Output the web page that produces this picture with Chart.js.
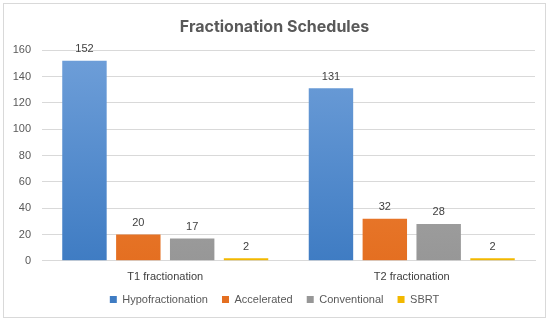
<!DOCTYPE html>
<html>
<head>
<meta charset="utf-8">
<script src="https://cdn.jsdelivr.net/npm/chart.js@4"></script>
<style>
  html, body { margin: 0; padding: 0; background: #fff; }
  #wrap { position: absolute; left: 3px; top: 3px; width: 543px; height: 315px; border: 1px solid #d9d9d9; box-sizing: border-box; }
  canvas { display: block; }
</style>
</head>
<body>
<div id="wrap"><canvas id="fracChart"></canvas></div>
<script>
// Data
var categories = ['T1 fractionation', 'T2 fractionation'];
var seriesNames = ['Hypofractionation', 'Accelerated', 'Conventional', 'SBRT'];
var hypoValues = [152, 131];
var accelValues = [20, 32];
var convValues = [17, 28];
var sbrtValues = [2, 2];
var yTicks = [0, 20, 40, 60, 80, 100, 120, 140, 160];

// colours: [top, bottom] of each bar gradient
var seriesColors = [
  ['#6f9fd9', '#3f7cc3'],
  ['#f08a44', '#e46f21'],
  ['#b0b0b0', '#979797'],
  ['#ffc928', '#f2b800']
];

function gradientFill(idx) {
  return function (context) {
    var chart = context.chart;
    var area = chart.chartArea;
    if (!area) return seriesColors[idx][1];
    var g = chart.ctx.createLinearGradient(0, area.top, 0, area.bottom);
    g.addColorStop(0, seriesColors[idx][0]);
    g.addColorStop(1, seriesColors[idx][1]);
    return g;
  };
}

// simple value labels above each bar
var valueLabels = {
  id: 'valueLabels',
  afterDatasetsDraw: function (chart) {
    var ctx = chart.ctx;
    ctx.save();
    ctx.font = '11px "Liberation Sans", Arial, sans-serif';
    ctx.fillStyle = '#404040';
    ctx.textAlign = 'center';
    ctx.textBaseline = 'bottom';
    chart.data.datasets.forEach(function (ds, i) {
      chart.getDatasetMeta(i).data.forEach(function (bar, j) {
        ctx.fillText(ds.data[j], bar.x, bar.y - 6);
      });
    });
    ctx.restore();
  }
};

var allValues = [hypoValues, accelValues, convValues, sbrtValues];

var fracChart = new Chart(document.getElementById('fracChart').getContext('2d'), {
  type: 'bar',
  data: {
    labels: categories,
    datasets: seriesNames.map(function (name, i) {
      return {
        label: name,
        data: allValues[i],
        backgroundColor: gradientFill(i),
        borderWidth: 0,
        categoryPercentage: 0.874,
        barPercentage: 0.825
      };
    })
  },
  options: {
    responsive: true,
    maintainAspectRatio: false,
    animation: false,
    layout: { padding: { left: 0, right: 0, top: 9, bottom: 2 } },
    plugins: {
      title: {
        display: true,
        text: 'Fractionation Schedules',
        color: '#595959',
        font: { family: 'Inter, "Open Sans", sans-serif', size: 16, weight: 'bold' },
        padding: { top: 5, bottom: 13 }
      },
      legend: {
        position: 'bottom',
        labels: {
          color: '#595959',
          font: { family: '"Liberation Sans", Arial, sans-serif', size: 11 },
          boxWidth: 7,
          boxHeight: 7,
          padding: 8,
          generateLabels: function (chart) {
            return seriesNames.map(function (name, i) {
              return {
                // trailing spaces widen the gap between legend items
                text: i < seriesNames.length - 1 ? name + '  ' : name,
                fillStyle: seriesColors[i][1],
                strokeStyle: seriesColors[i][1],
                lineWidth: 0,
                datasetIndex: i,
                fontColor: '#595959'
              };
            });
          }
        }
      },
      tooltip: { enabled: false }
    },
    scales: {
      x: {
        grid: { display: false },
        border: { color: '#d9d9d9' },
        ticks: { color: '#404040', font: { family: '"Liberation Sans", Arial, sans-serif', size: 11 }, padding: 2 }
      },
      y: {
        min: 0,
        max: 160,
        afterBuildTicks: function (axis) {
          axis.ticks = yTicks.map(function (v) { return { value: v }; });
        },
        afterFit: function (axis) { axis.width = 38; },
        grid: { color: '#d9d9d9', drawTicks: false },
        border: { display: false },
        ticks: { color: '#595959', font: { family: '"Liberation Sans", Arial, sans-serif', size: 11 }, padding: 11 }
      },
      // empty axis that only keeps a margin on the right
      yRight: {
        position: 'right',
        afterFit: function (axis) { axis.width = 10; },
        grid: { display: false },
        border: { display: false },
        ticks: { display: false }
      }
    }
  },
  plugins: [valueLabels]
});
</script>
</body>
</html>
